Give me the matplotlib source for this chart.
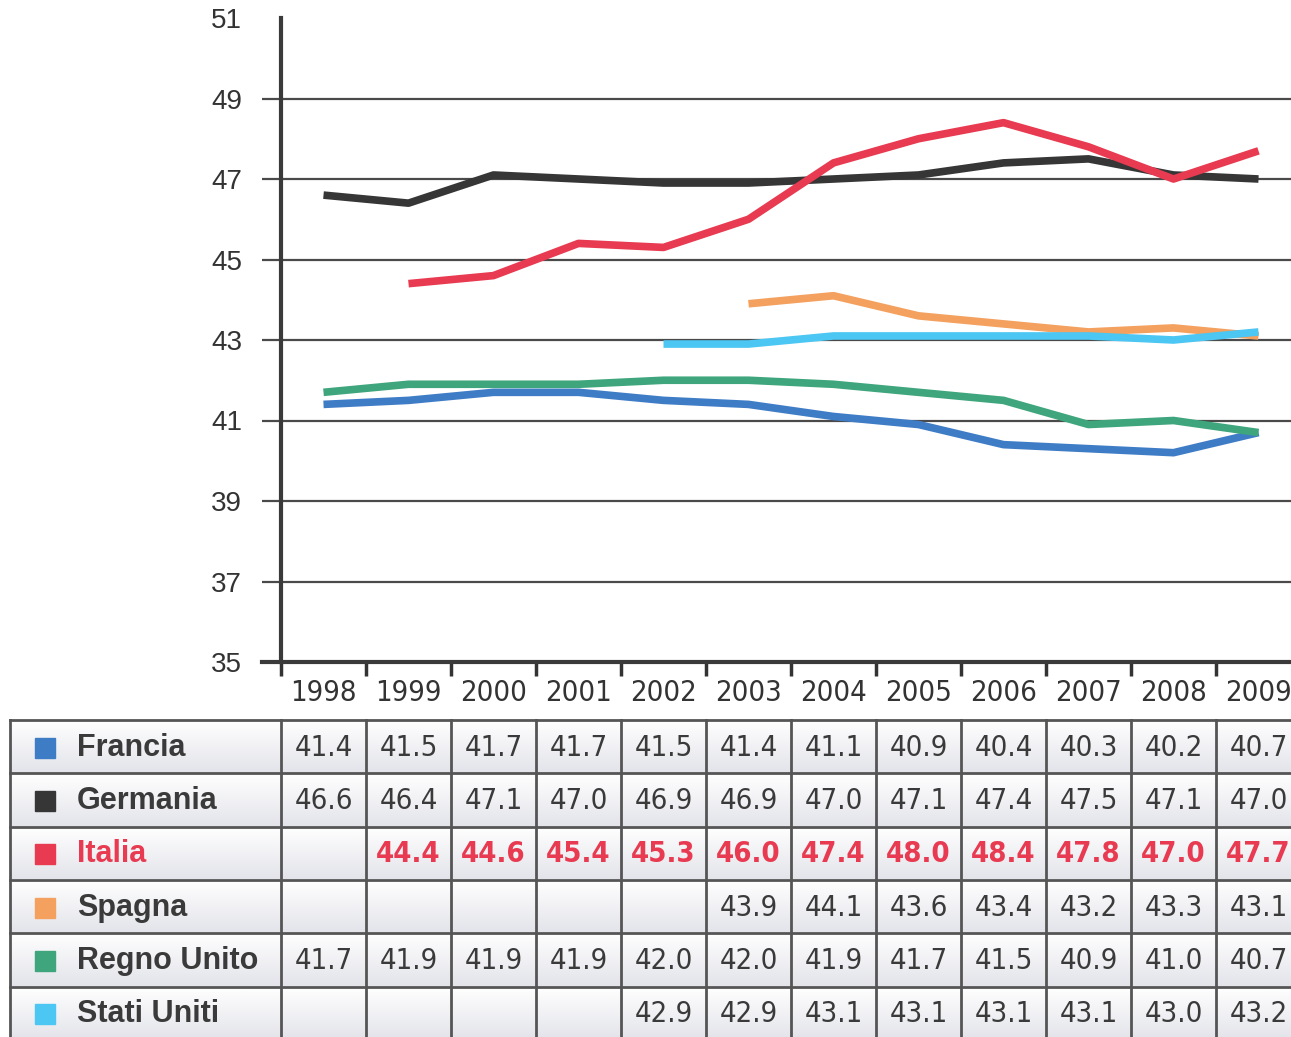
import matplotlib.pyplot as plt
import numpy as np
from matplotlib.colors import LinearSegmentedColormap
from matplotlib import font_manager

# dati
anni = ['1998', '1999', '2000', '2001', '2002', '2003', '2004', '2005', '2006', '2007', '2008', '2009']
paesi = ['Francia', 'Germania', 'Italia', 'Spagna', 'Regno Unito', 'Stati Uniti']
francia = [41.4, 41.5, 41.7, 41.7, 41.5, 41.4, 41.1, 40.9, 40.4, 40.3, 40.2, 40.7]
germania = [46.6, 46.4, 47.1, 47.0, 46.9, 46.9, 47.0, 47.1, 47.4, 47.5, 47.1, 47.0]
italia = [None, 44.4, 44.6, 45.4, 45.3, 46.0, 47.4, 48.0, 48.4, 47.8, 47.0, 47.7]
spagna = [None, None, None, None, None, 43.9, 44.1, 43.6, 43.4, 43.2, 43.3, 43.1]
regno_unito = [41.7, 41.9, 41.9, 41.9, 42.0, 42.0, 41.9, 41.7, 41.5, 40.9, 41.0, 40.7]
stati_uniti = [None, None, None, None, 42.9, 42.9, 43.1, 43.1, 43.1, 43.1, 43.0, 43.2]
serie = [francia, germania, italia, spagna, regno_unito, stati_uniti]
colori = ['#3f7cc6', '#363636', '#e83a50', '#f4a05e', '#3ea57c', '#4cc6f2']
griglia = [37, 39, 41, 43, 45, 47, 49]

# font stretto se c'e'
nomi = {f.name for f in font_manager.fontManager.ttflist}
if 'DejaVu Sans Condensed' in nomi:
    stretto = dict(family=['DejaVu Sans Condensed', 'DejaVu Sans'])
else:
    stretto = dict(family=['DejaVu Sans'], stretch='condensed')

W, H = 1291, 1037
fig = plt.figure(figsize=(W / 100, H / 100), dpi=100)

# grafico
ax = fig.add_axes([281 / W, (H - 662) / H, 1020 / W, 644 / H])
x = np.arange(len(anni))
for s, c in zip(serie, colori):
    y = np.array([np.nan if v is None else v for v in s])
    ax.plot(x, y, color=c, linewidth=5.5, solid_capstyle='butt', zorder=3)

ax.set_xlim(-0.5, len(anni) - 0.5)
ax.set_ylim(35, 51)
ax.hlines(griglia, -0.72, len(anni) - 0.5, color='#4a4a4a', linewidth=1.6,
          clip_on=False, zorder=1)
ax.set_yticks(np.arange(35, 52, 2))
ax.tick_params(axis='y', length=0, pad=28, labelsize=20, labelcolor='#333333')
for lab in ax.get_yticklabels():
    lab.set_family(['Liberation Sans', 'DejaVu Sans'])
ax.set_xticks(x)
ax.set_xticklabels(anni, fontsize=21, color='#333333', **stretto)
ax.set_xticks(np.arange(-0.5, len(anni), 1), minor=True)
ax.tick_params(axis='x', which='major', length=0, pad=12)
ax.tick_params(axis='x', which='minor', length=10, width=2.5, color='#333333')
for sp in ['top', 'right']:
    ax.spines[sp].set_visible(False)
ax.spines['left'].set_linewidth(3)
ax.spines['left'].set_color('#3a3a3a')
ax.spines['bottom'].set_linewidth(3)
ax.spines['bottom'].set_color('#3a3a3a')
ax.spines['bottom'].set_bounds(-0.72, len(anni) - 0.5)

# tabella
tax = fig.add_axes([0, 0, 1, 1], zorder=-1)
tax.set_xlim(0, W)
tax.set_ylim(H, 0)
tax.axis('off')
tax.patch.set_alpha(0)

bordi = [ax.transData.transform((i - 0.5, 40))[0] for i in range(len(anni) + 1)]
top, hr = 720, 53.3
left = 10
grad = np.linspace(0, 1, 50).reshape(-1, 1)
cm = LinearSegmentedColormap.from_list('g', ['#ffffff', '#e3e4ea'])
for r in range(len(paesi)):
    y0 = top + r * hr
    tax.imshow(grad, cmap=cm, extent=[left, W, y0 + hr, y0], aspect='auto', zorder=0)
for r in range(len(paesi) + 1):
    tax.plot([left, W], [top + r * hr] * 2, color='#555555', linewidth=2, zorder=2)
for xb in [left, 281] + bordi[1:-1]:
    tax.plot([xb, xb], [top, H], color='#555555', linewidth=2, zorder=2)

for r, (p, s, c) in enumerate(zip(paesi, serie, colori)):
    yc = top + r * hr + hr / 2 + 1
    tax.add_patch(plt.Rectangle((35, yc - 10), 20, 20, color=c, zorder=3))
    tcol = c if p == 'Italia' else '#3a3a3a'
    tax.text(77, yc, p, fontsize=22, fontweight='bold', color=tcol, va='center',
             ha='left', family=['Liberation Sans', 'DejaVu Sans'], zorder=3)
    for i, v in enumerate(s):
        if v is None:
            continue
        xc = (bordi[i] + bordi[i + 1]) / 2
        tax.text(xc, yc, f'{v:.1f}', fontsize=21, color=tcol, va='center', ha='center',
                 fontweight='bold' if p == 'Italia' else 'normal', zorder=3, **stretto)

fig.savefig('out.png', dpi=100)
